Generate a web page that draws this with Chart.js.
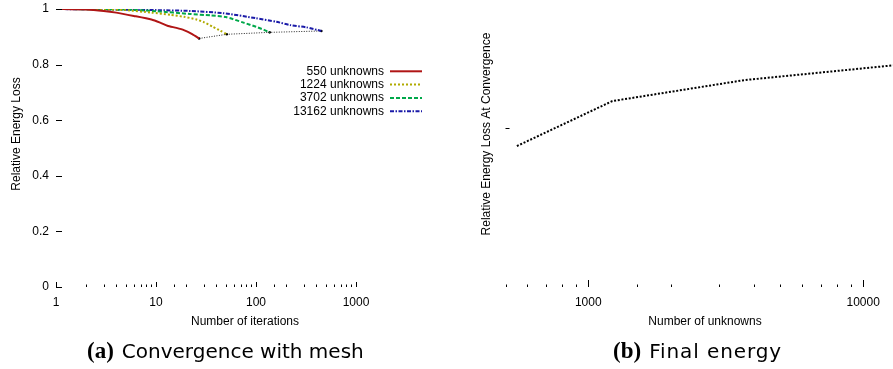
<!DOCTYPE html>
<html>
<head>
<meta charset="utf-8">
<script src="https://cdn.jsdelivr.net/npm/chart.js@4.4.1/dist/chart.umd.min.js"></script>
<style>
  html, body { margin: 0; padding: 0; width: 893px; height: 369px; overflow: hidden; background: #fff; }
  canvas { position: absolute; top: 0; }
  #conv { left: 0; }
  #final { left: 460px; }
  .caption { position: absolute; top: 340px; font-family: "DejaVu Sans"; font-size: 20px; line-height: 22px; white-space: nowrap; color: #000; }
  .caption b { font-family: "Liberation Serif"; font-size: 23px; font-weight: bold; margin-right: 8px; letter-spacing: 0; }
</style>
</head>
<body>
<canvas id="conv" width="440" height="340"></canvas>
<canvas id="final" width="440" height="340"></canvas>
<div class="caption" style="left: 87px;"><b>(a)</b>Convergence with mesh</div>
<div class="caption" style="left: 613px; letter-spacing: 0.9px;"><b>(b)</b>Final energy</div>
<script>
// relative energy loss per iteration, one run per mesh size
const seriesLabels = ['550 unknowns', '1224 unknowns', '3702 unknowns', '13162 unknowns'];

const iters550 = [1, 2, 3, 4, 6, 9, 11, 13, 16, 19, 23, 27];
const loss550 = [1, 0.998, 0.993, 0.987, 0.975, 0.962, 0.951, 0.940, 0.932, 0.924, 0.910, 0.894];

const iters1224 = [1, 3, 5, 9, 14, 19, 25, 30, 37, 44, 51];
const loss1224 = [1, 0.999, 0.996, 0.987, 0.979, 0.972, 0.963, 0.953, 0.936, 0.922, 0.909];

const iters3702 = [1, 5, 10, 22, 35, 50, 75, 100, 120, 137];
const loss3702 = [1, 0.998, 0.992, 0.982, 0.977, 0.971, 0.951, 0.936, 0.925, 0.916];

const iters13162 = [1, 10, 22, 47, 100, 160, 220, 320, 450];
const loss13162 = [1, 0.996, 0.993, 0.985, 0.967, 0.954, 0.942, 0.934, 0.921];

// converged state of each run
const unknowns = [550, 1224, 3702, 13162];
const finalIters = [27, 51, 137, 450];
const finalLoss = [0.894, 0.909, 0.916, 0.921];

const lossTicks = [0, 0.2, 0.4, 0.6, 0.8, 1];
const finalLossTicks = [0.9];

Chart.defaults.font.family = '"Liberation Sans", Arial, sans-serif';
Chart.defaults.font.size = 12;
Chart.defaults.color = '#000';

const pts = (xs, ys) => xs.map((x, i) => ({ x: x, y: ys[i] }));
const isDecade = v => Math.abs(Math.log10(v) - Math.round(Math.log10(v))) < 1e-9;
const decadeLabel = v => isDecade(v) ? String(v) : '';

// keep the plot box exactly where the layout padding puts it
const fixBox = (s, size) => {
  if (s.isHorizontal()) s.height = size; else s.width = size;
  s.paddingTop = 0; s.paddingBottom = 0;
  s.paddingLeft = 0; s.paddingRight = 0;
};

// gnuplot-like inward tick marks, free-placed axis titles and key
const frame = {
  id: 'frame',
  afterDraw(chart, args, opts) {
    const ctx = chart.ctx;
    const area = chart.chartArea;
    const xs = chart.scales.x, ys = chart.scales.y;
    ctx.save();
    ctx.strokeStyle = '#000';
    ctx.lineWidth = 1;
    ctx.beginPath();
    xs.ticks.forEach(t => {
      const px = Math.round(xs.getPixelForValue(t.value)) + 0.5;
      const len = isDecade(t.value) ? opts.xMajor : opts.xMinor;
      ctx.moveTo(px, area.bottom);
      ctx.lineTo(px, area.bottom - len);
    });
    ys.ticks.forEach(t => {
      const py = Math.round(ys.getPixelForValue(t.value)) + 0.5;
      ctx.moveTo(area.left, py);
      ctx.lineTo(area.left + opts.yLen, py);
    });
    ctx.stroke();

    ctx.fillStyle = '#000';
    ctx.font = '12px "Liberation Sans", Arial, sans-serif';
    ctx.textAlign = 'center';
    ctx.textBaseline = 'middle';
    ctx.fillText(opts.xTitle.text, opts.xTitle.x, opts.xTitle.y);
    ctx.save();
    ctx.translate(opts.yTitle.x, opts.yTitle.y);
    ctx.rotate(-Math.PI / 2);
    ctx.fillText(opts.yTitle.text, 0, 0);
    ctx.restore();

    if (opts.key) {
      const k = opts.key;
      chart.data.datasets.slice(0, k.count).forEach((ds, i) => {
        const y = k.y + i * k.step;
        ctx.textAlign = 'right';
        ctx.fillText(ds.label, k.textRight, y);
        ctx.beginPath();
        ctx.strokeStyle = ds.borderColor;
        ctx.lineWidth = ds.borderWidth;
        ctx.setLineDash(ds.borderDash || []);
        ctx.moveTo(k.lineFrom, y);
        ctx.lineTo(k.lineTo, y);
        ctx.stroke();
      });
      ctx.setLineDash([]);
    }
    ctx.restore();
  }
};

const seriesStyle = [
  { color: '#b01515', dash: [] },
  { color: '#b0aa00', dash: [2, 2] },
  { color: '#00a84a', dash: [4, 2] },
  { color: '#1a1aa8', dash: [4, 1.5, 1.5, 1.5] }
];
const seriesPts = [
  pts(iters550, loss550),
  pts(iters1224, loss1224),
  pts(iters3702, loss3702),
  pts(iters13162, loss13162)
];

const convSets = seriesPts.map((data, i) => ({
  label: seriesLabels[i],
  data: data,
  borderColor: seriesStyle[i].color,
  borderDash: seriesStyle[i].dash,
  borderWidth: 2,
  pointRadius: 0,
  tension: 0.2
}));
convSets.push({
  label: 'converged',
  data: pts(finalIters, finalLoss),
  borderColor: '#222',
  borderDash: [1, 1.5],
  borderWidth: 1,
  pointRadius: 1.3,
  pointBackgroundColor: '#000',
  pointBorderWidth: 0
});

new Chart(document.getElementById('conv'), {
  type: 'line',
  data: { datasets: convSets },
  options: {
    responsive: false,
    animation: false,
    layout: { padding: { top: 9, right: 84, bottom: 0, left: 0 } },
    plugins: {
      legend: { display: false },
      tooltip: { enabled: false },
      frame: {
        xMajor: 5, xMinor: 2.5, yLen: 6,
        xTitle: { text: 'Number of iterations', x: 245, y: 322 },
        yTitle: { text: 'Relative Energy Loss', x: 17, y: 134 },
        key: { count: 4, y: 71.3, step: 13.3, textRight: 384, lineFrom: 390, lineTo: 422 }
      }
    },
    scales: {
      x: {
        type: 'logarithmic', min: 1, max: 1000,
        grid: { display: false, drawTicks: false },
        border: { display: false },
        ticks: { autoSkip: false, maxRotation: 0, padding: 8, callback: decadeLabel },
        afterFit: s => fixBox(s, 53)
      },
      y: {
        min: 0, max: 1,
        grid: { display: false, drawTicks: false },
        border: { display: false },
        afterBuildTicks: s => { s.ticks = lossTicks.map(v => ({ value: v })); },
        ticks: { padding: 7, callback: v => String(v) },
        afterFit: s => fixBox(s, 56)
      }
    }
  },
  plugins: [frame]
});

new Chart(document.getElementById('final'), {
  type: 'line',
  data: {
    datasets: [{
      label: 'converged loss',
      data: pts(unknowns, finalLoss),
      borderColor: '#000',
      borderDash: [2, 1.7],
      borderWidth: 2,
      pointRadius: 0
    }]
  },
  options: {
    responsive: false,
    animation: false,
    layout: { padding: { top: 9, right: 4, bottom: 0, left: 0 } },
    plugins: {
      legend: { display: false },
      tooltip: { enabled: false },
      frame: {
        xMajor: 7, xMinor: 2.5, yLen: 4,
        xTitle: { text: 'Number of unknowns', x: 245, y: 322 },
        yTitle: { text: 'Relative Energy Loss At Convergence', x: 27, y: 134 }
      }
    },
    scales: {
      x: {
        type: 'logarithmic', min: 500, max: 13162,
        grid: { display: false, drawTicks: false },
        border: { display: false },
        ticks: { autoSkip: false, maxRotation: 0, padding: 8, callback: decadeLabel },
        afterFit: s => fixBox(s, 53)
      },
      y: {
        min: 0.847, max: 0.9397,
        grid: { display: false, drawTicks: false },
        border: { display: false },
        afterBuildTicks: s => { s.ticks = finalLossTicks.map(v => ({ value: v })); },
        ticks: { callback: () => '' },
        afterFit: s => fixBox(s, 45.5)
      }
    }
  },
  plugins: [frame]
});
</script>
</body>
</html>
